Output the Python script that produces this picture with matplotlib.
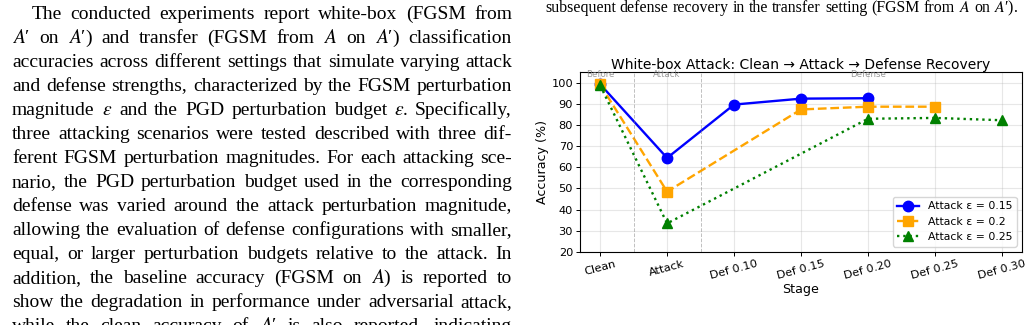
import matplotlib
matplotlib.use('Agg')
import matplotlib.pyplot as plt

plt.rcParams['mathtext.fontset'] = 'stix'

# paper text around the figure (left column, justified)
left_lines = [
    "The conducted experiments report white-box (FGSM from",
    "$A$′ on $A$′) and transfer (FGSM from $A$ on $A$′) classification",
    "accuracies across different settings that simulate varying attack",
    "and defense strengths, characterized by the FGSM perturbation",
    "magnitude $\\epsilon$ and the PGD perturbation budget $\\epsilon$. Specifically,",
    "three attacking scenarios were tested described with three dif-",
    "ferent FGSM perturbation magnitudes. For each attacking sce-",
    "nario, the PGD perturbation budget used in the corresponding",
    "defense was varied around the attack perturbation magnitude,",
    "allowing the evaluation of defense configurations with smaller,",
    "equal, or larger perturbation budgets relative to the attack. In",
    "addition, the baseline accuracy (FGSM on $A$) is reported to",
    "show the degradation in performance under adversarial attack,",
    "while the clean accuracy of $A$′ is also reported, indicating",
]
caption_line = "subsequent defense recovery in the transfer setting (FGSM from $A$ on $A$′)."

# chart data
stages = ['Clean', 'Attack', 'Def 0.10', 'Def 0.15', 'Def 0.20', 'Def 0.25', 'Def 0.30']
idx_015 = [0, 1, 2, 3, 4]
acc_015 = [99.2, 64.4, 89.6, 92.4, 92.6]
idx_02 = [0, 1, 3, 4, 5]
acc_02 = [99.1, 48.5, 87.3, 88.6, 88.6]
idx_025 = [0, 1, 4, 5, 6]
acc_025 = [98.7, 33.5, 82.9, 83.3, 82.2]
yticks = [20, 30, 40, 50, 60, 70, 80, 90, 100]

BODY_FS = 14.0
CAPTION_FS = 11.4

fig = plt.figure(figsize=(10.33, 3.25), dpi=100)
page = fig.add_axes([0, 0, 1, 1])
page.set_xlim(0, 1033)
page.set_ylim(325, 0)
page.axis('off')
renderer = fig.canvas.get_renderer()


def put_line(line, x0, x1, y, fs, justify=True):
    words = line.split(' ')
    texts = [page.text(0, y, w, fontsize=fs, family='Liberation Serif', va='baseline')
             for w in words]
    widths = [t.get_window_extent(renderer).width for t in texts]
    if justify and len(words) > 1:
        gap = (x1 - x0 - sum(widths)) / (len(words) - 1)
    else:
        gap = fs * 0.25 * 100 / 72
    x = x0
    for t, w in zip(texts, widths):
        t.set_x(x)
        x += w + gap


for i, line in enumerate(left_lines):
    x0 = 32 if i == 0 else 12
    put_line(line, x0, 512, 19 + 24.0 * i, BODY_FS)
put_line(caption_line, 545, 1025, 12, CAPTION_FS, justify=False)

# the chart
ax = fig.add_axes([0.5615, 0.2246, 0.4279, 0.554])
ax.plot(idx_015, acc_015, 'o-', color='blue', lw=1.7, ms=7.5, label='Attack ε = 0.15')
ax.plot(idx_02, acc_02, 's--', color='orange', lw=1.7, ms=7.5, label='Attack ε = 0.2')
ax.plot(idx_025, acc_025, '^:', color='green', lw=1.7, ms=7.5, label='Attack ε = 0.25')

ax.axvline(0.5, color='gray', ls='--', lw=0.7, alpha=0.5)
ax.axvline(1.5, color='gray', ls='--', lw=0.7, alpha=0.5)
for x, s in [(0, 'Before'), (1, 'Attack'), (4, 'Defense')]:
    ax.text(x, 103.6, s, ha='center', va='center', fontsize=6.2, color='gray', alpha=0.8)

ax.set_ylim(20, 105)
ax.set_yticks(yticks)
ax.set_xticks(range(len(stages)))
ax.set_xticklabels(stages, rotation=15)
ax.tick_params(labelsize=8.2, width=0.7, length=3, pad=2)
ax.set_xlabel('Stage', fontsize=9.1, labelpad=1)
ax.set_ylabel('Accuracy (%)', fontsize=9.1, labelpad=2)
ax.set_title('White-box Attack: Clean → Attack → Defense Recovery', fontsize=10, pad=1)
ax.grid(True, alpha=0.3)
ax.legend(loc='lower right', fontsize=7.8)
for sp in ax.spines.values():
    sp.set_linewidth(0.8)

fig.savefig('out.png', dpi=100)
